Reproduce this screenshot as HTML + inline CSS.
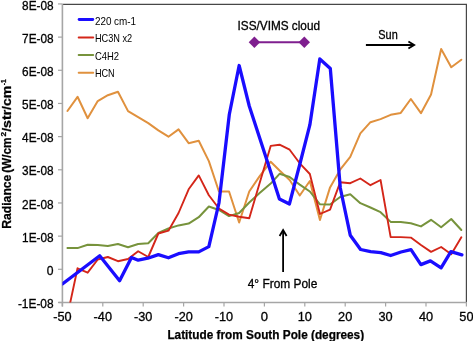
<!DOCTYPE html>
<html><head><meta charset="utf-8"><style>
html,body{margin:0;padding:0;background:#fff;}
body{width:473px;height:341px;overflow:hidden;}
svg{display:block;will-change:transform;}
text{font-family:"Liberation Sans", sans-serif;fill:#000;stroke:#000;stroke-width:0.3px;}
text.b{stroke-width:0.25px;}
text.n{stroke-width:0;}
</style></head><body>
<svg width="473" height="341" viewBox="0 0 473 341" font-family='"Liberation Sans", sans-serif'>
<path d="M62.4 4.4H466.4V302.5" fill="none" stroke="#474747" stroke-width="1.2"/>
<line x1="62.4" y1="4.0" x2="62.4" y2="306.5" stroke="#a6a6a6" stroke-width="1.6"/>
<line x1="58.4" y1="302.5" x2="466.4" y2="302.5" stroke="#a6a6a6" stroke-width="1.3"/>
<line x1="58.0" y1="3.94" x2="62.4" y2="3.94" stroke="#a6a6a6" stroke-width="1.2"/>
<text x="53.6" y="9.54" text-anchor="end" font-size="12.5" textLength="31.52" lengthAdjust="spacingAndGlyphs">8E-08</text>
<line x1="58.0" y1="37.11" x2="62.4" y2="37.11" stroke="#a6a6a6" stroke-width="1.2"/>
<text x="53.6" y="42.71" text-anchor="end" font-size="12.5" textLength="31.52" lengthAdjust="spacingAndGlyphs">7E-08</text>
<line x1="58.0" y1="70.28" x2="62.4" y2="70.28" stroke="#a6a6a6" stroke-width="1.2"/>
<text x="53.6" y="75.88" text-anchor="end" font-size="12.5" textLength="31.52" lengthAdjust="spacingAndGlyphs">6E-08</text>
<line x1="58.0" y1="103.45" x2="62.4" y2="103.45" stroke="#a6a6a6" stroke-width="1.2"/>
<text x="53.6" y="109.05" text-anchor="end" font-size="12.5" textLength="31.52" lengthAdjust="spacingAndGlyphs">5E-08</text>
<line x1="58.0" y1="136.62" x2="62.4" y2="136.62" stroke="#a6a6a6" stroke-width="1.2"/>
<text x="53.6" y="142.22" text-anchor="end" font-size="12.5" textLength="31.52" lengthAdjust="spacingAndGlyphs">4E-08</text>
<line x1="58.0" y1="169.79" x2="62.4" y2="169.79" stroke="#a6a6a6" stroke-width="1.2"/>
<text x="53.6" y="175.39" text-anchor="end" font-size="12.5" textLength="31.52" lengthAdjust="spacingAndGlyphs">3E-08</text>
<line x1="58.0" y1="202.96" x2="62.4" y2="202.96" stroke="#a6a6a6" stroke-width="1.2"/>
<text x="53.6" y="208.56" text-anchor="end" font-size="12.5" textLength="31.52" lengthAdjust="spacingAndGlyphs">2E-08</text>
<line x1="58.0" y1="236.13" x2="62.4" y2="236.13" stroke="#a6a6a6" stroke-width="1.2"/>
<text x="53.6" y="241.73" text-anchor="end" font-size="12.5" textLength="31.52" lengthAdjust="spacingAndGlyphs">1E-08</text>
<line x1="58.0" y1="269.30" x2="62.4" y2="269.30" stroke="#a6a6a6" stroke-width="1.2"/>
<text x="53.6" y="274.90" text-anchor="end" font-size="12.5" textLength="6.75" lengthAdjust="spacingAndGlyphs">0</text>
<line x1="58.0" y1="302.47" x2="62.4" y2="302.47" stroke="#a6a6a6" stroke-width="1.2"/>
<text x="53.6" y="308.07" text-anchor="end" font-size="12.5" textLength="35.71" lengthAdjust="spacingAndGlyphs">-1E-08</text>
<line x1="62.40" y1="302.5" x2="62.40" y2="306.5" stroke="#a6a6a6" stroke-width="1.2"/>
<text x="62.40" y="320.8" text-anchor="middle" font-size="12.5" textLength="18.38" lengthAdjust="spacingAndGlyphs">-50</text>
<line x1="102.80" y1="302.5" x2="102.80" y2="306.5" stroke="#a6a6a6" stroke-width="1.2"/>
<text x="102.80" y="320.8" text-anchor="middle" font-size="12.5" textLength="18.38" lengthAdjust="spacingAndGlyphs">-40</text>
<line x1="143.20" y1="302.5" x2="143.20" y2="306.5" stroke="#a6a6a6" stroke-width="1.2"/>
<text x="143.20" y="320.8" text-anchor="middle" font-size="12.5" textLength="18.38" lengthAdjust="spacingAndGlyphs">-30</text>
<line x1="183.60" y1="302.5" x2="183.60" y2="306.5" stroke="#a6a6a6" stroke-width="1.2"/>
<text x="183.60" y="320.8" text-anchor="middle" font-size="12.5" textLength="18.38" lengthAdjust="spacingAndGlyphs">-20</text>
<line x1="224.00" y1="302.5" x2="224.00" y2="306.5" stroke="#a6a6a6" stroke-width="1.2"/>
<text x="224.00" y="320.8" text-anchor="middle" font-size="12.5" textLength="18.38" lengthAdjust="spacingAndGlyphs">-10</text>
<line x1="264.40" y1="302.5" x2="264.40" y2="306.5" stroke="#a6a6a6" stroke-width="1.2"/>
<text x="264.40" y="320.8" text-anchor="middle" font-size="12.5" textLength="7.25" lengthAdjust="spacingAndGlyphs">0</text>
<line x1="304.80" y1="302.5" x2="304.80" y2="306.5" stroke="#a6a6a6" stroke-width="1.2"/>
<text x="304.80" y="320.8" text-anchor="middle" font-size="12.5" textLength="14.19" lengthAdjust="spacingAndGlyphs">10</text>
<line x1="345.20" y1="302.5" x2="345.20" y2="306.5" stroke="#a6a6a6" stroke-width="1.2"/>
<text x="345.20" y="320.8" text-anchor="middle" font-size="12.5" textLength="14.19" lengthAdjust="spacingAndGlyphs">20</text>
<line x1="385.60" y1="302.5" x2="385.60" y2="306.5" stroke="#a6a6a6" stroke-width="1.2"/>
<text x="385.60" y="320.8" text-anchor="middle" font-size="12.5" textLength="14.19" lengthAdjust="spacingAndGlyphs">30</text>
<line x1="426.00" y1="302.5" x2="426.00" y2="306.5" stroke="#a6a6a6" stroke-width="1.2"/>
<text x="426.00" y="320.8" text-anchor="middle" font-size="12.5" textLength="14.19" lengthAdjust="spacingAndGlyphs">40</text>
<line x1="466.40" y1="302.5" x2="466.40" y2="306.5" stroke="#a6a6a6" stroke-width="1.2"/>
<text x="466.40" y="320.8" text-anchor="middle" font-size="12.5" textLength="14.19" lengthAdjust="spacingAndGlyphs">50</text>
<clipPath id="c"><rect x="62.4" y="4.0" width="404.0" height="298.5"/></clipPath>
<g clip-path="url(#c)" fill="none" stroke-linejoin="round" stroke-linecap="round">
<polyline points="67.45,111 77.55,96.8 87.65,118.2 97.75,101.1 107.85,95.2 117.95,91.8 128.05,111.1 138.15,117.2 148.25,123.1 158.35,130.4 168.45,136.7 178.55,129.4 188.65,143.2 198.75,140.7 208.85,161.1 218.95,191.5 229.05,191.5 239.15,222.5 249.25,191.5 259.35,176.6 270.70,161.7 279.55,170.5 289.65,180 299.75,195.5 309.85,181 319.95,220 330.05,187.4 340.15,169.7 350.25,156.8 360.35,133.4 370.45,122.2 380.55,119.1 390.65,114.8 400.75,112.9 410.85,99 420.95,113.2 431.05,94.5 441.15,49 451.25,67.2 461.35,59.7" stroke="#e0913e" stroke-width="2"/>
<polyline points="67.45,248.1 77.55,248.1 87.65,244.7 97.75,245 107.85,245.9 117.95,244 128.05,247.2 138.15,244 148.25,243.2 158.35,233 168.45,228.5 178.55,225.4 188.65,223.6 198.75,217.2 208.85,206.5 218.95,210 229.05,216.1 239.15,213 249.25,202.5 259.35,193.3 270.70,183.6 279.55,173.8 289.65,177 299.75,184.6 309.85,191.5 319.95,204.3 330.05,204.5 340.15,197 350.25,194.3 360.35,203.2 370.45,207.5 380.55,212.2 390.65,221.9 400.75,221.9 410.85,223.3 420.95,226.4 431.05,219.8 441.15,227.2 451.25,219 461.35,230" stroke="#77933c" stroke-width="2"/>
<polyline points="67.45,315.6 77.55,268.3 87.65,272.7 97.75,259.5 107.85,257 117.95,261.2 128.05,259 138.15,251.2 148.25,257 158.35,233.5 168.45,230.7 178.55,213 188.65,189.3 198.75,175.4 208.85,195.2 218.95,208.5 229.05,214.6 239.15,216.8 249.25,218.2 259.35,184 270.70,145.9 279.55,144.7 289.65,149.7 299.75,163.3 309.85,174 319.95,214 330.05,209.6 340.15,182.3 350.25,183.2 360.35,178.5 370.45,185.2 380.55,180 390.65,237.1 400.75,237.1 410.85,237.6 420.95,245 431.05,251.9 441.15,247 451.25,254.3 461.35,237.3" stroke="#d42619" stroke-width="1.9"/>
<polyline points="62.4,284 99.7,255.8 119.6,280.8 131.5,257.4 138.2,260.2 147.8,258.2 158.35,254.6 168.4,257.8 178.5,253.7 188.65,251.9 198.75,251.9 208.85,246.6 218.95,203 229.3,114.5 239.15,65.5 249.25,106 259.35,137 269.45,168 279.4,199 289.4,204 299.75,164.5 309.85,124.9 319.8,59 330.3,68.5 340.3,188 350.25,235.2 360.6,249.5 370.6,251.7 380.8,252.6 390.65,255.5 401,252 411,249.6 420.9,264.6 430.4,260.9 441.1,267.8 450.9,251.7 461.9,254.8" stroke="#1a0dff" stroke-width="3.3"/>
</g>
<line x1="79.10" y1="19.5" x2="92.80" y2="19.5" stroke="#1a0dff" stroke-width="2.8" stroke-linecap="round"/>
<text class="n" x="94.9" y="24.6" font-size="10.3" textLength="41.2" lengthAdjust="spacingAndGlyphs">220 cm-1</text>
<line x1="78.70" y1="37.4" x2="93.20" y2="37.4" stroke="#d42619" stroke-width="2" stroke-linecap="round"/>
<text class="n" x="94.9" y="41.9" font-size="10.3" textLength="37.3" lengthAdjust="spacingAndGlyphs">HC3N x2</text>
<line x1="78.70" y1="55.1" x2="93.20" y2="55.1" stroke="#77933c" stroke-width="2" stroke-linecap="round"/>
<text class="n" x="94.9" y="59.6" font-size="10.3" textLength="24.2" lengthAdjust="spacingAndGlyphs">C4H2</text>
<line x1="78.70" y1="72.7" x2="93.20" y2="72.7" stroke="#e0913e" stroke-width="2" stroke-linecap="round"/>
<text class="n" x="94.9" y="77.1" font-size="10.3" textLength="19.8" lengthAdjust="spacingAndGlyphs">HCN</text>
<text x="237.6" y="29.9" font-size="12" textLength="82.4" lengthAdjust="spacingAndGlyphs">ISS/VIMS cloud</text>
<line x1="254.4" y1="42.2" x2="304.3" y2="42.2" stroke="#7f1f8f" stroke-width="2"/>
<path d="M248.70000000000002 42.2L254.4 36.5L260.1 42.2L254.4 47.9Z" fill="#7f1f8f"/>
<path d="M298.6 42.2L304.3 36.5L310.0 42.2L304.3 47.9Z" fill="#7f1f8f"/>
<text x="378.3" y="38.7" font-size="12" textLength="19.4" lengthAdjust="spacingAndGlyphs">Sun</text>
<line x1="365.9" y1="45" x2="413.5" y2="45" stroke="#000" stroke-width="1.8"/>
<path d="M408.4 41.4L414.2 45L408.4 48.6" fill="none" stroke="#000" stroke-width="1.8"/>
<line x1="283.1" y1="231" x2="283.1" y2="272.1" stroke="#000" stroke-width="1.8"/>
<path d="M279.6 236L283.1 230L286.6 236" fill="none" stroke="#000" stroke-width="1.8"/>
<text x="247.7" y="288.2" font-size="12" textLength="69.7" lengthAdjust="spacingAndGlyphs">4° From Pole</text>
<text class="b" x="167.4" y="338.6" font-size="12" font-weight="bold" textLength="196.7" lengthAdjust="spacingAndGlyphs">Latitude from South Pole (degrees)</text>
<g transform="translate(10.9 228.4) rotate(-90)">
<text class="b" x="-0.4" y="0" font-size="11.9" font-weight="bold" textLength="54.2" lengthAdjust="spacingAndGlyphs">Radiance</text>
<text class="b" x="55.6" y="0" font-size="11.9" font-weight="bold" textLength="35.4" lengthAdjust="spacingAndGlyphs">(W/cm</text>
<text class="b" x="91.8" y="-5.2" font-size="7.2" font-weight="bold" textLength="4.6" lengthAdjust="spacingAndGlyphs">2</text>
<text class="b" x="96.6" y="0" font-size="11.9" font-weight="bold" textLength="46.2" lengthAdjust="spacingAndGlyphs">/str/cm</text>
<text class="b" x="143.2" y="-5.4" font-size="7.2" font-weight="bold" textLength="6.0" lengthAdjust="spacingAndGlyphs">-1</text>
</g>
</svg>
</body></html>
